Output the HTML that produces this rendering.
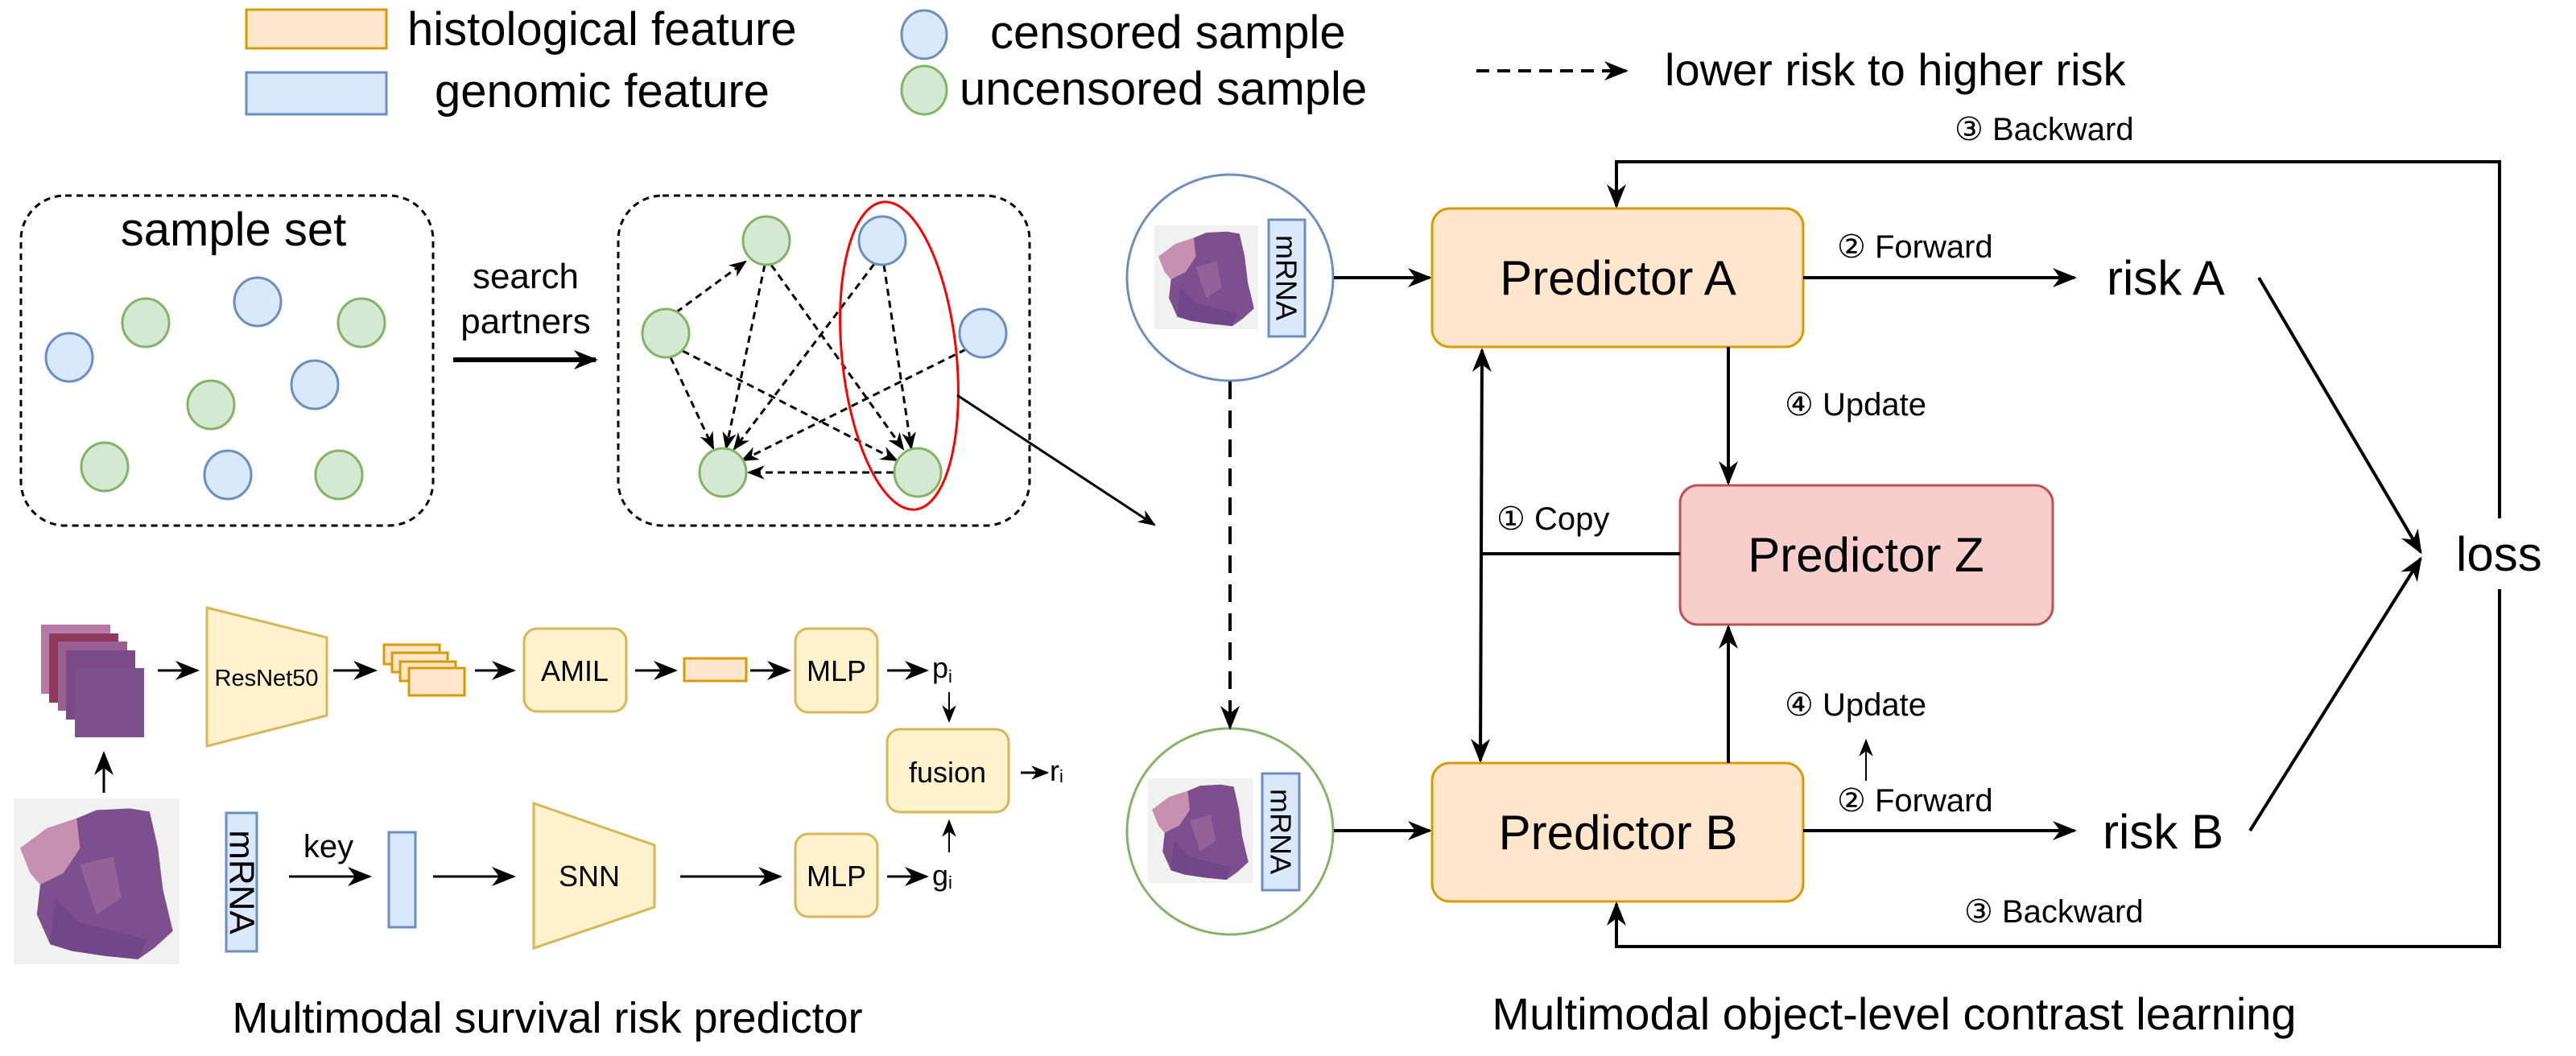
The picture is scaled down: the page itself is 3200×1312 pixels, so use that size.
<!DOCTYPE html>
<html><head><meta charset="utf-8"><style>
html,body{margin:0;padding:0;background:#fff;}
svg{display:block;}
text{font-family:"Liberation Sans","DejaVu Sans",sans-serif;fill:#000;}
.c{font-family:"DejaVu Sans","Liberation Sans",sans-serif;}
</style></head><body>
<svg width="3200" height="1312" viewBox="0 0 3200 1312" xmlns="http://www.w3.org/2000/svg">
<defs>
<marker id="a" markerUnits="userSpaceOnUse" markerWidth="30" markerHeight="30" viewBox="0 0 20 20" refX="18" refY="10" orient="auto-start-reverse">
<path d="M0,2 L20,10 L0,18 L6,10 z" fill="#000"/></marker>
<marker id="as" markerUnits="userSpaceOnUse" markerWidth="22" markerHeight="22" viewBox="0 0 20 20" refX="18" refY="10" orient="auto-start-reverse">
<path d="M0,2 L20,10 L0,18 L6,10 z" fill="#000"/></marker>
<symbol id="tis" viewBox="0 0 100 100">
<rect width="100" height="100" fill="#f1f1f1"/>
<path d="M4,30 L20,18 L38,12 L50,7 L70,6 L82,8 L87,30 L90,55 L96,80 L85,90 L75,97 L55,95 L35,92 L22,88 L14,70 L16,52 L10,45 Z" fill="#7d4f8e"/>
<path d="M4,30 L20,18 L38,12 L40,30 L30,45 L16,52 L10,45 Z" fill="#c890b0"/>
<path d="M40,40 L60,35 L65,60 L50,70 Z" fill="#a06a9e" opacity="0.7"/>
<path d="M25,60 L40,75 L60,80 L80,85 L75,97 L55,95 L35,92 L22,88 Z" fill="#6a4285" opacity="0.6"/>
</symbol>
</defs>

<!-- legend -->
<rect x="306" y="12" width="174" height="48" fill="#ffe6cc" stroke="#d79b00" stroke-width="3"/>
<rect x="306" y="90" width="174" height="52" fill="#dae8fc" stroke="#6c8ebf" stroke-width="3"/>
<text x="506" y="56" font-size="58">histological feature</text>
<text x="540" y="133" font-size="58">genomic feature</text>
<ellipse cx="1148" cy="43" rx="28" ry="30" fill="#dae8fc" stroke="#6c8ebf" stroke-width="3"/>
<ellipse cx="1148" cy="112" rx="28" ry="30" fill="#d5e8d4" stroke="#82b366" stroke-width="3"/>
<text x="1230" y="60" font-size="58">censored sample</text>
<text x="1192" y="130" font-size="58">uncensored sample</text>
<line x1="1834" y1="88" x2="2020" y2="88" stroke="#000" stroke-width="4" stroke-dasharray="16,10" marker-end="url(#a)"/>
<text x="2068" y="106" font-size="56">lower risk to higher risk</text>

<!-- sample set -->
<rect x="26" y="243" width="512" height="410" rx="55" fill="none" stroke="#000" stroke-width="3" stroke-dasharray="8,6"/>
<text x="290" y="305" font-size="58" text-anchor="middle">sample set</text>
<g stroke-width="3">
<ellipse cx="86" cy="444" rx="29" ry="30" fill="#dae8fc" stroke="#6c8ebf"/>
<ellipse cx="181" cy="401" rx="29" ry="30" fill="#d5e8d4" stroke="#82b366"/>
<ellipse cx="320" cy="375" rx="29" ry="30" fill="#dae8fc" stroke="#6c8ebf"/>
<ellipse cx="449" cy="401" rx="29" ry="30" fill="#d5e8d4" stroke="#82b366"/>
<ellipse cx="391" cy="478" rx="29" ry="30" fill="#dae8fc" stroke="#6c8ebf"/>
<ellipse cx="262" cy="503" rx="29" ry="30" fill="#d5e8d4" stroke="#82b366"/>
<ellipse cx="130" cy="580" rx="29" ry="30" fill="#d5e8d4" stroke="#82b366"/>
<ellipse cx="283" cy="590" rx="29" ry="30" fill="#dae8fc" stroke="#6c8ebf"/>
<ellipse cx="421" cy="590" rx="29" ry="30" fill="#d5e8d4" stroke="#82b366"/>
</g>
<text x="653" y="358" font-size="44" text-anchor="middle">search</text>
<text x="653" y="414" font-size="44" text-anchor="middle">partners</text>
<line x1="563" y1="447" x2="740" y2="447" stroke="#000" stroke-width="6" marker-end="url(#a)"/>

<!-- graph box -->
<rect x="768" y="243" width="511" height="410" rx="55" fill="none" stroke="#000" stroke-width="3" stroke-dasharray="8,6"/>
<g stroke="#000" stroke-width="3" stroke-dasharray="9,6" fill="none">
<line x1="840" y1="388" x2="926" y2="325" marker-end="url(#as)"/>
<line x1="833" y1="444" x2="886" y2="557" marker-end="url(#as)"/>
<line x1="848" y1="436" x2="1114" y2="572" marker-end="url(#as)"/>
<line x1="950" y1="329" x2="902" y2="557" marker-end="url(#as)"/>
<line x1="958" y1="329" x2="1122" y2="558" marker-end="url(#as)"/>
<line x1="1086" y1="328" x2="912" y2="558" marker-end="url(#as)"/>
<line x1="1098" y1="329" x2="1132" y2="557" marker-end="url(#as)"/>
<line x1="1200" y1="434" x2="922" y2="572" marker-end="url(#as)"/>
<line x1="1110" y1="587" x2="930" y2="587" marker-end="url(#as)"/>
</g>
<g stroke-width="3">
<ellipse cx="952" cy="299" rx="29" ry="30" fill="#d5e8d4" stroke="#82b366"/>
<ellipse cx="1096" cy="299" rx="29" ry="30" fill="#dae8fc" stroke="#6c8ebf"/>
<ellipse cx="827" cy="414" rx="29" ry="30" fill="#d5e8d4" stroke="#82b366"/>
<ellipse cx="1221" cy="414" rx="29" ry="30" fill="#dae8fc" stroke="#6c8ebf"/>
<ellipse cx="898" cy="587" rx="29" ry="30" fill="#d5e8d4" stroke="#82b366"/>
<ellipse cx="1140" cy="587" rx="29" ry="30" fill="#d5e8d4" stroke="#82b366"/>
</g>
<ellipse cx="1117" cy="442" rx="71" ry="192" transform="rotate(-6 1117 442)" fill="none" stroke="#ff0000" stroke-width="3"/>
<line x1="1189" y1="491" x2="1434" y2="652" stroke="#000" stroke-width="3" marker-end="url(#as)"/>

<!-- bottom-left pipeline -->
<g>
<rect x="51" y="776" width="86" height="86" fill="#b57aa5"/>
<rect x="61" y="787" width="86" height="86" fill="#8f3a5e"/>
<rect x="72" y="797" width="86" height="86" fill="#9a5f92"/>
<rect x="82" y="808" width="86" height="86" fill="#7b4a86"/>
<rect x="93" y="830" width="86" height="86" fill="#8a5a95"/>
<rect x="93" y="830" width="86" height="86" fill="#5e3a7a" opacity="0.3"/>
</g>
<line x1="129" y1="985" x2="129" y2="936" stroke="#000" stroke-width="3" marker-end="url(#a)"/>
<use href="#tis" x="0" y="992" width="240" height="206"/>
<rect x="281" y="1010" width="38" height="172" fill="#dae8fc" stroke="#6c8ebf" stroke-width="3"/>
<text x="300" y="1096" font-size="44" text-anchor="middle" dominant-baseline="central" transform="rotate(90 300 1096)">mRNA</text>
<text x="408" y="1065" font-size="40" text-anchor="middle">key</text>
<line x1="359" y1="1089" x2="459" y2="1089" stroke="#000" stroke-width="3" marker-end="url(#a)"/>
<rect x="483" y="1034" width="33" height="118" fill="#dae8fc" stroke="#6c8ebf" stroke-width="3"/>
<line x1="538" y1="1089" x2="638" y2="1089" stroke="#000" stroke-width="3" marker-end="url(#a)"/>
<path d="M663,998 L813,1050 L813,1127 L663,1178 Z" fill="#fff2cc" stroke="#d6b656" stroke-width="3"/>
<text x="732" y="1101" font-size="36" text-anchor="middle">SNN</text>
<line x1="845" y1="1089" x2="969" y2="1089" stroke="#000" stroke-width="3" marker-end="url(#a)"/>
<rect x="988" y="1036" width="102" height="103" rx="16" fill="#fff2cc" stroke="#d6b656" stroke-width="3"/>
<text x="1039" y="1101" font-size="36" text-anchor="middle">MLP</text>
<line x1="1102" y1="1089" x2="1151" y2="1089" stroke="#000" stroke-width="3" marker-end="url(#a)"/>
<text x="1158" y="1100" font-size="36" font-family="Liberation Serif,serif">g<tspan font-size="22" dy="4">i</tspan></text>

<path d="M257,755 L406,792 L406,889 L257,927 Z" fill="#fff2cc" stroke="#d6b656" stroke-width="3"/>
<text x="331" y="852" font-size="29" text-anchor="middle">ResNet50</text>
<line x1="196" y1="833" x2="245" y2="833" stroke="#000" stroke-width="3" marker-end="url(#a)"/>
<line x1="414" y1="833" x2="466" y2="833" stroke="#000" stroke-width="3" marker-end="url(#a)"/>
<g fill="#ffe6cc" stroke="#d79b00" stroke-width="3">
<rect x="477" y="801" width="69" height="24"/>
<rect x="487" y="811" width="69" height="24"/>
<rect x="497" y="822" width="69" height="24"/>
<rect x="508" y="830" width="69" height="34"/>
</g>
<line x1="590" y1="833" x2="638" y2="833" stroke="#000" stroke-width="3" marker-end="url(#a)"/>
<rect x="651" y="781" width="127" height="103" rx="16" fill="#fff2cc" stroke="#d6b656" stroke-width="3"/>
<text x="714" y="846" font-size="36" text-anchor="middle">AMIL</text>
<line x1="789" y1="833" x2="839" y2="833" stroke="#000" stroke-width="3" marker-end="url(#a)"/>
<rect x="850" y="818" width="77" height="28" fill="#ffe6cc" stroke="#d79b00" stroke-width="3"/>
<line x1="932" y1="833" x2="980" y2="833" stroke="#000" stroke-width="3" marker-end="url(#a)"/>
<rect x="988" y="781" width="102" height="104" rx="16" fill="#fff2cc" stroke="#d6b656" stroke-width="3"/>
<text x="1039" y="846" font-size="36" text-anchor="middle">MLP</text>
<line x1="1102" y1="833" x2="1151" y2="833" stroke="#000" stroke-width="3" marker-end="url(#a)"/>
<text x="1158" y="842" font-size="36" font-family="Liberation Serif,serif">p<tspan font-size="22" dy="6">i</tspan></text>
<line x1="1179" y1="860" x2="1179" y2="896" stroke="#000" stroke-width="2" marker-end="url(#as)"/>
<rect x="1102" y="906" width="151" height="103" rx="16" fill="#fff2cc" stroke="#d6b656" stroke-width="3"/>
<text x="1177" y="972" font-size="36" text-anchor="middle">fusion</text>
<line x1="1179" y1="1059" x2="1179" y2="1020" stroke="#000" stroke-width="2" marker-end="url(#as)"/>
<line x1="1268" y1="960" x2="1301" y2="960" stroke="#000" stroke-width="3" marker-end="url(#as)"/>
<text x="1304" y="970" font-size="36" font-family="Liberation Serif,serif">r<tspan font-size="22" dy="2">i</tspan></text>
<text x="680" y="1283" font-size="54" text-anchor="middle">Multimodal survival risk predictor</text>

<!-- right part -->
<circle cx="1528" cy="345" r="128" fill="#fff" stroke="#6c8ebf" stroke-width="3"/>
<use href="#tis" x="1434" y="279" width="129" height="131"/>
<rect x="1576" y="273" width="45" height="145" fill="#dae8fc" stroke="#6c8ebf" stroke-width="3"/>
<text x="1598" y="345" font-size="36" text-anchor="middle" dominant-baseline="central" transform="rotate(90 1598 345)">mRNA</text>
<circle cx="1528" cy="1033" r="128" fill="#fff" stroke="#82b366" stroke-width="3"/>
<use href="#tis" x="1426" y="967" width="130" height="130"/>
<rect x="1568" y="961" width="46" height="145" fill="#dae8fc" stroke="#6c8ebf" stroke-width="3"/>
<text x="1591" y="1033" font-size="36" text-anchor="middle" dominant-baseline="central" transform="rotate(90 1591 1033)">mRNA</text>
<line x1="1528" y1="474" x2="1528" y2="904" stroke="#000" stroke-width="4" stroke-dasharray="22,14" marker-end="url(#a)"/>

<line x1="1657" y1="345" x2="1776" y2="345" stroke="#000" stroke-width="4" marker-end="url(#a)"/>
<line x1="1657" y1="1032" x2="1776" y2="1032" stroke="#000" stroke-width="4" marker-end="url(#a)"/>

<rect x="1779" y="259" width="461" height="172" rx="22" fill="#ffe6cc" stroke="#d79b00" stroke-width="3"/>
<text x="2010" y="366" font-size="60" text-anchor="middle">Predictor A</text>
<rect x="1779" y="948" width="461" height="172" rx="22" fill="#ffe6cc" stroke="#d79b00" stroke-width="3"/>
<text x="2010" y="1055" font-size="60" text-anchor="middle">Predictor B</text>
<rect x="2087" y="603" width="463" height="173" rx="22" fill="#f8cecc" stroke="#b85450" stroke-width="3"/>
<text x="2318" y="710" font-size="60" text-anchor="middle">Predictor Z</text>

<line x1="2240" y1="345" x2="2577" y2="345" stroke="#000" stroke-width="4" marker-end="url(#a)"/>
<line x1="2240" y1="1032" x2="2577" y2="1032" stroke="#000" stroke-width="4" marker-end="url(#a)"/>
<text x="2282" y="320" font-size="40"><tspan class="c">②</tspan> Forward</text>
<text x="2282" y="1008" font-size="40"><tspan class="c">②</tspan> Forward</text>
<text x="2617" y="366" font-size="60">risk A</text>
<text x="2612" y="1054" font-size="60">risk B</text>

<line x1="2147" y1="431" x2="2147" y2="600" stroke="#000" stroke-width="4" marker-end="url(#a)"/>
<line x1="2147" y1="948" x2="2147" y2="779" stroke="#000" stroke-width="4" marker-end="url(#a)"/>
<text x="2217" y="516" font-size="40"><tspan class="c">④</tspan> Update</text>
<text x="2217" y="889" font-size="40"><tspan class="c">④</tspan> Update</text>
<line x1="2318" y1="970" x2="2318" y2="920" stroke="#000" stroke-width="2" marker-end="url(#as)"/>

<line x1="1841" y1="435" x2="1839" y2="945" stroke="#000" stroke-width="4" marker-start="url(#a)" marker-end="url(#a)"/>
<line x1="1840" y1="688" x2="2087" y2="688" stroke="#000" stroke-width="4"/>
<text x="1859" y="658" font-size="40"><tspan class="c">①</tspan> Copy</text>

<path d="M3105,644 L3105,201 L2008,201 L2008,256" fill="none" stroke="#000" stroke-width="4" marker-end="url(#a)"/>
<path d="M3105,732 L3105,1176 L2008,1176 L2008,1123" fill="none" stroke="#000" stroke-width="4" marker-end="url(#a)"/>
<text x="2428" y="174" font-size="40"><tspan class="c">③</tspan> Backward</text>
<text x="2440" y="1146" font-size="40"><tspan class="c">③</tspan> Backward</text>

<line x1="2806" y1="345" x2="3007" y2="686" stroke="#000" stroke-width="4" marker-end="url(#a)"/>
<line x1="2795" y1="1032" x2="3007" y2="694" stroke="#000" stroke-width="4" marker-end="url(#a)"/>
<text x="3051" y="709" font-size="60">loss</text>

<text x="2353" y="1279" font-size="56" text-anchor="middle">Multimodal object-level contrast learning</text>
</svg>
</body></html>
